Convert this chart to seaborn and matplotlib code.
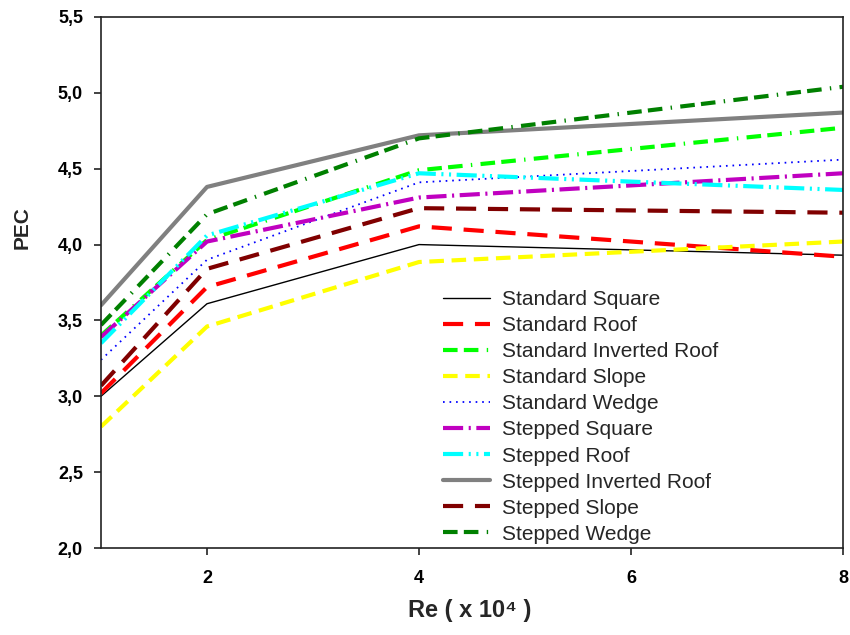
import matplotlib
matplotlib.use("Agg")
import matplotlib.pyplot as plt
import seaborn as sns
import pandas as pd

# ---- data ----
re_values = [1, 2, 4, 8]
series_names = [
    "Standard Square", "Standard Roof", "Standard Inverted Roof", "Standard Slope",
    "Standard Wedge", "Stepped Square", "Stepped Roof", "Stepped Inverted Roof",
    "Stepped Slope", "Stepped Wedge",
]
standard_square = [3.00, 3.61, 4.00, 3.93]
standard_roof = [3.02, 3.72, 4.12, 3.92]
standard_inverted_roof = [3.40, 4.03, 4.49, 4.77]
standard_slope = [2.80, 3.46, 3.885, 4.02]
standard_wedge = [3.24, 3.90, 4.41, 4.56]
stepped_square = [3.39, 4.02, 4.31, 4.47]
stepped_roof = [3.35, 4.06, 4.47, 4.36]
stepped_inverted_roof = [3.60, 4.38, 4.72, 4.87]
stepped_slope = [3.07, 3.84, 4.24, 4.21]
stepped_wedge = [3.47, 4.20, 4.70, 5.04]
y_ticks = [2.0, 2.5, 3.0, 3.5, 4.0, 4.5, 5.0, 5.5]
x_ticks = [2, 4, 6, 8]

all_values = [standard_square, standard_roof, standard_inverted_roof, standard_slope,
              standard_wedge, stepped_square, stepped_roof, stepped_inverted_roof,
              stepped_slope, stepped_wedge]

# ---- styles ----
colors = ["#000000", "#FF0000", "#00FF00", "#FFFF00", "#0000FF",
          "#C000C0", "#00FFFF", "#808080", "#800000", "#008000"]
linestyles = [
    "-",
    (0, (14.5, 8.5)),
    (0, (10.5, 4.5, 10.5, 6, 1, 6)),
    (0, (10.5, 5.5)),
    (0, (1.2, 3.5)),
    (0, (14.5, 4, 1.5, 4)),
    (0, (14.5, 4, 1.5, 4, 1.5, 4)),
    "-",
    (0, (14.5, 8.5)),
    (0, (10.5, 4.5, 10.5, 6, 1, 6)),
]
widths = [1.0, 3.0, 3.0, 3.0, 1.3, 3.0, 3.0, 3.0, 3.0, 3.0]

sns.set_style("ticks")
plt.rcParams["font.family"] = ["Liberation Sans", "DejaVu Sans"]
plt.rcParams["lines.scale_dashes"] = False

fig = plt.figure(figsize=(8.5, 6.35), dpi=100)
ax = fig.add_axes([101 / 850, 87 / 635, 742 / 850, 531 / 635])

for name, vals, c, ls, lw in zip(series_names, all_values, colors, linestyles, widths):
    df = pd.DataFrame({"Re": re_values, "PEC": vals})
    sns.lineplot(data=df, x="Re", y="PEC", ax=ax, color=c, linestyle=ls,
                 linewidth=lw, label=name)

ax.set_xlim(1, 8)
ax.set_ylim(2.0, 5.5)
ax.set_xticks(x_ticks)
ax.set_xticklabels([str(t) for t in x_ticks])
ax.set_yticks(y_ticks)
ax.set_yticklabels([f"{t:.1f}".replace(".", ",") for t in y_ticks])

for sp in ax.spines.values():
    sp.set_visible(True)
    sp.set_linewidth(1.2)
    sp.set_color("#222222")
ax.tick_params(direction="out", length=5, width=1.2, colors="#222222",
               labelcolor="black", labelsize=13)
ax.tick_params(axis="y", pad=8)
ax.tick_params(axis="x", pad=11)
for lab in ax.get_xticklabels() + ax.get_yticklabels():
    lab.set_fontweight("bold")

ax.set_xlabel("Re ( x 10⁴ )", fontsize=17, fontweight="bold")
ax.set_ylabel("PEC", fontsize=15, fontweight="bold")
ax.yaxis.label.set_fontweight("bold")
ax.xaxis.label.set_fontweight("bold")
ax.xaxis.set_label_coords(0.497, -0.096)
ax.yaxis.set_label_coords(-0.093, 0.603)

leg = ax.legend(loc="upper left", bbox_to_anchor=(443 / 850, 1 - 290 / 635),
                bbox_transform=fig.transFigure, frameon=False, fontsize=15,
                handlelength=2.26, handletextpad=0.58, labelspacing=0.34,
                borderpad=0, borderaxespad=0)

fig.savefig("out.png", dpi=100)
